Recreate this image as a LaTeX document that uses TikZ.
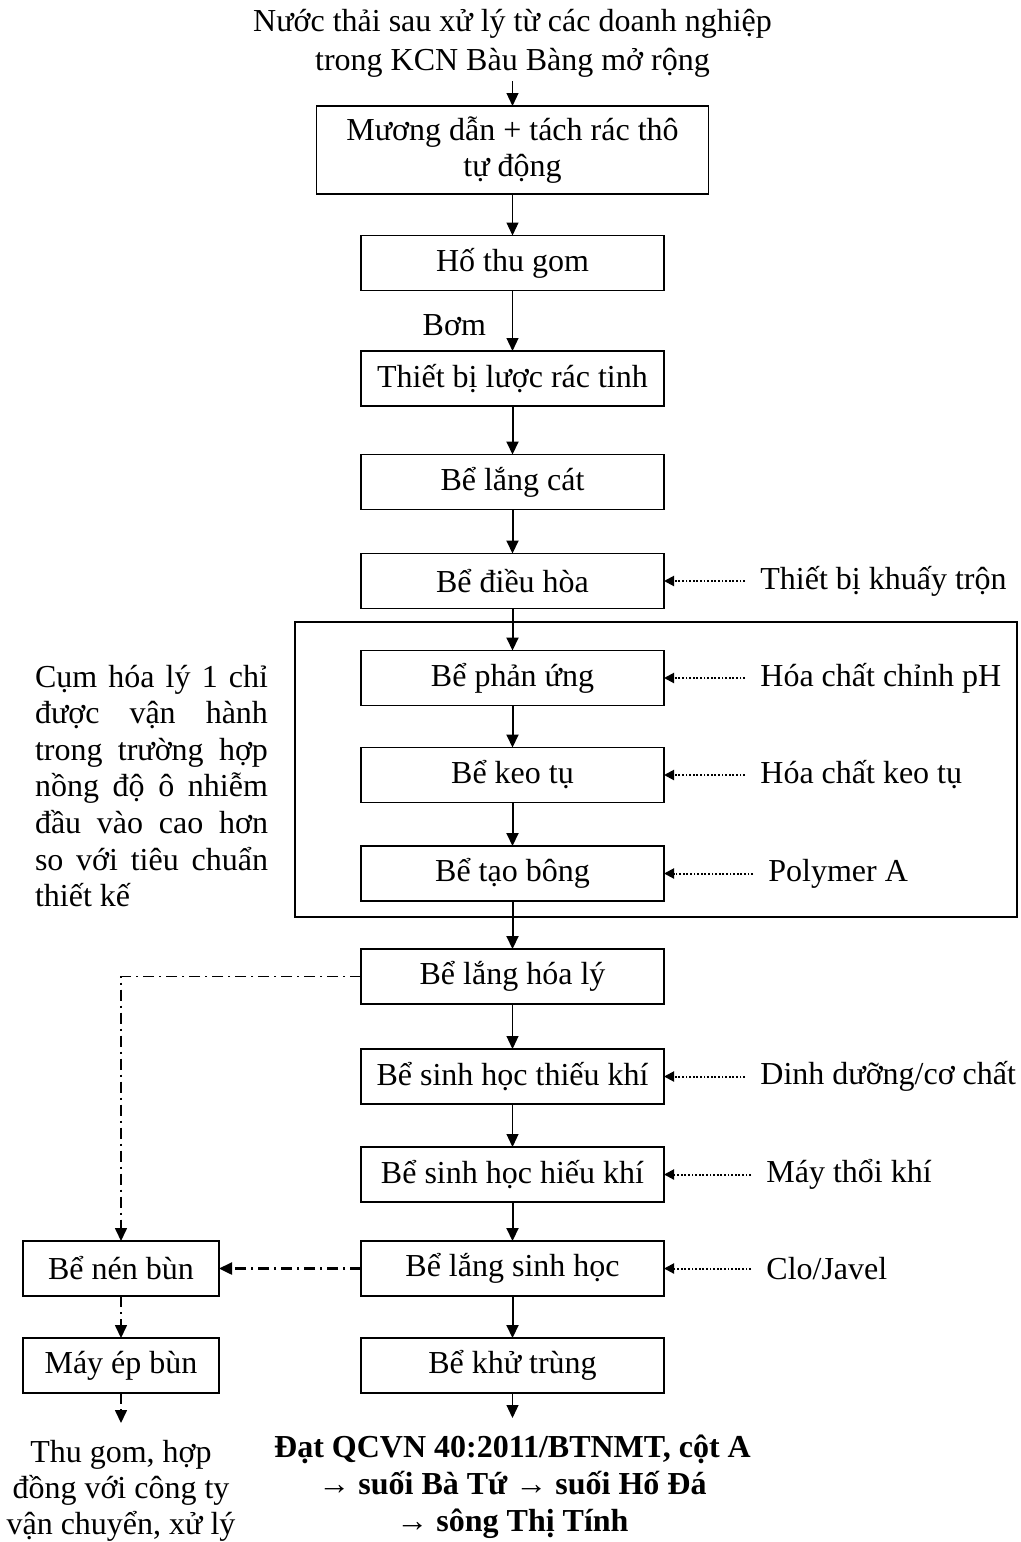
\documentclass[tikz,border=0pt]{standalone}
\usepackage{fontspec}
\setmainfont{Liberation Serif}
\usetikzlibrary{arrows.meta,positioning}

\begin{document}
\begin{tikzpicture}[
  x=0.5pt, y=-0.5pt,
  font=\fontsize{16}{18.3}\selectfont,
  box/.style={draw, line width=0.7pt, align=center, minimum width=151.5pt, minimum height=27.5pt, inner sep=0pt, outer sep=0pt},
  sbox/.style={box, minimum width=98pt},
  txt/.style={align=center, inner xsep=0pt, inner ysep=2pt},
  feed/.style={right=40.5pt of #1, inner xsep=7.5pt, inner ysep=0pt},
  arr/.style={-{Triangle[length=6.5pt,width=6pt]}, line width=0.6pt},
  tarr/.style={arr, line width=1pt},
  feedarr/.style={-{Triangle[length=5pt,width=5pt]}, line width=1pt, dash pattern=on 0.9pt off 0.9pt},
  sludge/.style={-{Triangle[length=6.5pt,width=6pt]}, line width=0.8pt, dash pattern=on 5.5pt off 2.5pt on 1pt off 2.5pt},
  frame/.style={draw, line width=0.7pt}
]
\useasboundingbox (0,0) rectangle (1021,1542);
% source
\node[txt, font=\fontsize{16}{19.5}\selectfont] (src) at (512.5,43) {Nước thải sau xử lý từ các doanh nghiệp\\trong KCN Bàu Bàng mở rộng};
% main line
\node[box, minimum width=196pt, minimum height=44pt] (b1) at (512.5,150) {Mương dẫn + tách rác thô\\tự động};
\node[box, below=20.75pt of b1] (b2) {Hố thu gom};
\node[box, below=30.25pt of b2] (b3) {Thiết bị lược rác tinh};
\node[box, below=24.25pt of b3] (b4) {Bể lắng cát};
\node[box, below=22pt of b4] (b5) {Bể điều hòa};
\node[box, below=21pt of b5] (b6) {Bể phản ứng};
\node[box, below=21pt of b6] (b7) {Bể keo tụ};
\node[box, below=21.75pt of b7] (b8) {Bể tạo bông};
\node[box, below=24pt of b8] (b9) {Bể lắng hóa lý};
\node[box, below=22.5pt of b9] (b10) {Bể sinh học thiếu khí};
\node[box, below=21.5pt of b10] (b11) {Bể sinh học hiếu khí};
\node[box, below=19.5pt of b11] (b12) {Bể lắng sinh học};
\node[box, below=21pt of b12] (b13) {Bể khử trùng};
\node[txt, below=12.5pt of b13, inner ysep=8.5pt, font=\fontsize{16}{18.3}\selectfont\bfseries] (out) {Đạt QCVN 40:2011/BTNMT, cột A\\→ suối Bà Tứ → suối Hố Đá\\→ sông Thị Tính};
% sludge line
\node[sbox, left=71pt of b12] (nen) {Bể nén bùn};
\node[sbox, below=21pt of nen] (ep) {Máy ép bùn};
\node[txt, below=15pt of ep, inner ysep=8.5pt, font=\fontsize{16}{18}\selectfont] (thu) {Thu gom, hợp\\đồng với công ty\\vận chuyển, xử lý};
% chemicals
\node[feed=b5] (f5) {Thiết bị khuấy trộn};
\node[feed=b6] (f6) {Hóa chất chỉnh pH};
\node[feed=b7] (f7) {Hóa chất keo tụ};
\node[feed=b8, xshift=4pt] (f8) {Polymer A};
\node[feed=b10] (f10) {Dinh dưỡng/cơ chất};
\node[feed=b11, xshift=3pt] (f11) {Máy thổi khí};
\node[feed=b12, xshift=3pt] (f12) {Clo/Javel};
% physico-chemical cluster
\draw[frame] (295,622) rectangle (1017,917);
\node[align=left, inner sep=0pt] (cum) at (151.5,786) {%
  \makebox[116.5pt][s]{Cụm hóa lý 1 chỉ}\\
  \makebox[116.5pt][s]{được vận hành}\\
  \makebox[116.5pt][s]{trong trường hợp}\\
  \makebox[116.5pt][s]{nồng độ ô nhiễm}\\
  \makebox[116.5pt][s]{đầu vào cao hơn}\\
  \makebox[116.5pt][s]{so với tiêu chuẩn}\\
  thiết kế};
% arrows
\draw[arr] (src) -- (b1);
\draw[arr] (b1) -- (b2);
\draw[arr] (b2) -- node[left=13pt, inner sep=0pt, yshift=-2pt] (bom) {Bơm} (b3);
\foreach \a/\b in {b3/b4,b4/b5,b5/b6,b6/b7,b7/b8,b8/b9,b11/b12,b12/b13} \draw[tarr] (\a) -- (\b);
\foreach \a/\b in {b9/b10,b10/b11,b13/out} \draw[arr] (\a) -- (\b);
\foreach \f/\b in {f5/b5,f6/b6,f7/b7,f8/b8,f10/b10,f11/b11,f12/b12} \draw[feedarr] (\f.west) -- (\b.east);
\draw[sludge] (b9.west) -| (nen.north);
\draw[sludge, line width=1.2pt] (b12) -- (nen);
\draw[sludge] (nen) -- (ep);
\draw[sludge] (ep) -- (thu);
\end{tikzpicture}
\end{document}
